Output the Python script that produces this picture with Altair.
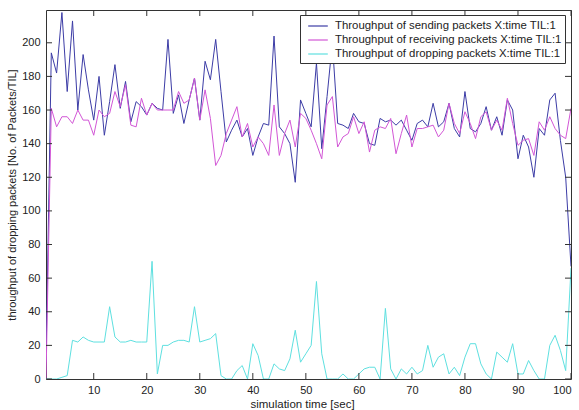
import altair as alt
import pandas as pd

times = list(range(1, 101))

sent = [10, 194, 182, 218, 171, 213, 160, 193, 172, 154,
        180, 145, 165, 187, 161, 177, 153, 165, 162, 157,
        164, 161, 160, 202, 158, 169, 152, 166, 179, 154,
        189, 178, 202, 171, 141, 148, 154, 144, 149, 133,
        144, 152, 151, 204, 150, 146, 140, 117, 166, 158,
        150, 188, 137, 168, 200, 152, 151, 149, 158, 153,
        152, 140, 139, 155, 153, 154, 151, 154, 148, 142,
        152, 154, 150, 164, 150, 153, 164, 149, 144, 171,
        149, 147, 152, 162, 148, 156, 145, 166, 160, 131,
        145, 138, 120, 149, 145, 166, 170, 142, 120, 67]

received = [0, 161, 150, 156, 156, 152, 160, 154, 154, 145,
            160, 156, 158, 171, 162, 175, 151, 150, 167, 157,
            164, 160, 160, 160, 160, 171, 164, 166, 179, 154,
            172, 155, 127, 133, 146, 154, 162, 144, 152, 138,
            144, 140, 133, 163, 133, 146, 154, 138, 158, 155,
            148, 140, 131, 163, 168, 138, 144, 146, 156, 146,
            153, 135, 148, 150, 149, 155, 134, 146, 157, 138,
            149, 149, 150, 151, 144, 148, 164, 152, 146, 159,
            152, 143, 156, 159, 148, 154, 148, 167, 152, 139,
            142, 143, 133, 153, 148, 156, 149, 145, 143, 161]

dropped = [0, 0, 0, 1, 2, 23, 22, 25, 23, 22,
           22, 22, 43, 25, 22, 22, 23, 22, 22, 22,
           70, 3, 20, 20, 22, 23, 23, 22, 43, 22,
           23, 24, 27, 2, 0, 0, 5, 8, 0, 21,
           14, 0, 0, 9, 6, 5, 12, 29, 10, 15,
           20, 58, 15, 0, 0, 0, 3, 0, 0, 3,
           6, 7, 7, 0, 42, 6, 0, 6, 3, 7,
           3, 5, 20, 7, 13, 15, 3, 7, 2, 13,
           21, 21, 9, 3, 0, 16, 13, 10, 21, 3,
           3, 11, 5, 0, 0, 20, 26, 17, 5, 66]

series_names = [
    "Throughput of sending packets X:time TIL:1",
    "Throughput of receiving packets X:time TIL:1",
    "Throughput of dropping packets X:time TIL:1",
]
series_colors = ["#3c3ca6", "#d256d6", "#5ee0e0"]

x_ticks = [10, 20, 30, 40, 50, 60, 70, 80, 90, 100]
y_ticks = [0, 20, 40, 60, 80, 100, 120, 140, 160, 180, 200]

W, H = 525, 369
TICK = 6

rows = []
for name, vals in zip(series_names, [sent, received, dropped]):
    for t, v in zip(times, vals):
        rows.append({"x": t, "y": v, "series": name})
df = pd.DataFrame(rows)
xt = pd.DataFrame({"x": x_ticks})
yt = pd.DataFrame({"y": y_ticks})

xscale = alt.Scale(domain=[1, 100], nice=False, zero=False)
yscale = alt.Scale(domain=[0, 219.5], nice=False)

font = "Liberation Sans"

xaxis = alt.Axis(values=x_ticks, ticks=False, domain=False, grid=False,
                 labelFontSize=11, labelPadding=5, labelColor="#222",
                 labelFont=font, labelOverlap=False,
                 title="simulation time [sec]",
                 titleFont=font, titleFontSize=11.5, titleFontWeight="normal",
                 titleColor="#222", titlePadding=3, titleX=256)
yaxis = alt.Axis(values=y_ticks, ticks=False, domain=False, grid=False,
                 labelFontSize=11, labelPadding=6, labelColor="#222",
                 labelFont=font, labelOverlap=False,
                 title="throughput of dropping packets [No. of Packets/TIL]",
                 titleFont=font, titleFontSize=11, titleFontWeight="normal",
                 titleColor="#222", titlePadding=4)

lines = alt.Chart(df).mark_line(strokeWidth=1, clip=True).encode(
    x=alt.X("x:Q", scale=xscale, axis=xaxis),
    y=alt.Y("y:Q", scale=yscale, axis=yaxis),
    color=alt.Color(
        "series:N",
        scale=alt.Scale(domain=series_names, range=series_colors),
        sort=series_names,
        legend=alt.Legend(
            title=None, orient="none", legendX=254, legendY=5,
            strokeColor="#333", fillColor="white", padding=3,
            rowPadding=0, symbolType="M-0.4,0H2.4", symbolSize=196,
            symbolStrokeWidth=1.2, labelOffset=16, labelFontSize=11.4,
            labelFont=font, labelColor="#222", labelLimit=400,
        ),
    ),
    order=alt.Order("series:N"),
)

tick_color = "#333"
bottom_ticks = alt.Chart(xt).mark_rule(color=tick_color, strokeWidth=1).encode(
    x=alt.X("x:Q", scale=xscale, axis=xaxis), y=alt.value(H), y2=alt.value(H - TICK))
top_ticks = alt.Chart(xt).mark_rule(color=tick_color, strokeWidth=1).encode(
    x=alt.X("x:Q", scale=xscale, axis=xaxis), y=alt.value(0), y2=alt.value(TICK))
left_ticks = alt.Chart(yt).mark_rule(color=tick_color, strokeWidth=1).encode(
    y=alt.Y("y:Q", scale=yscale, axis=yaxis), x=alt.value(0), x2=alt.value(TICK))
right_ticks = alt.Chart(yt).mark_rule(color=tick_color, strokeWidth=1).encode(
    y=alt.Y("y:Q", scale=yscale, axis=yaxis), x=alt.value(W), x2=alt.value(W - TICK))

chart = alt.layer(lines, bottom_ticks, top_ticks, left_ticks, right_ticks).properties(
    width=W, height=H,
    autosize=alt.AutoSizeParams(type="none"),
    padding={"left": 46, "top": 10, "right": 8, "bottom": 31},
    background="white",
).configure_view(stroke="#333", strokeWidth=1).configure_axis(labelOverlap=False)

chart.save("out.html", embed_options={"renderer": "svg", "actions": False})
